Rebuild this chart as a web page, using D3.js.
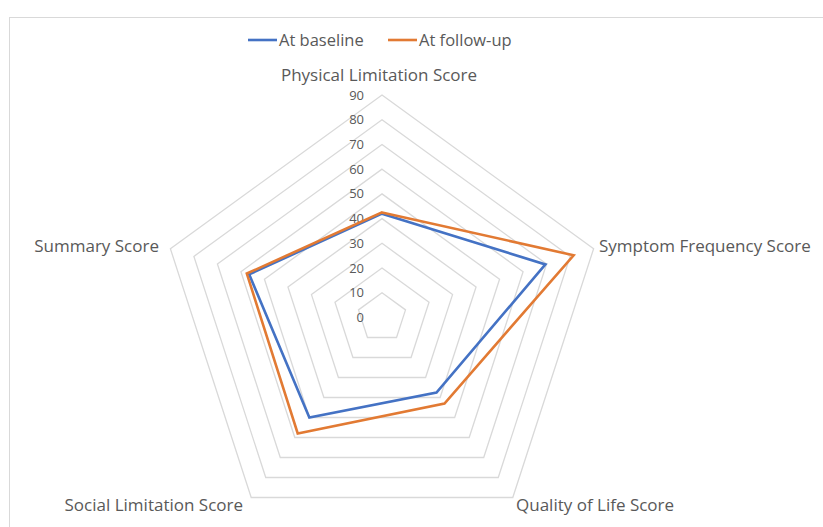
<!DOCTYPE html>
<html>
<head>
<meta charset="utf-8">
<script src="https://cdn.jsdelivr.net/npm/d3@7"></script>
<style>
  body { margin: 0; background: #fff; }
  text { font-family: "Open Sans", Lato, sans-serif; fill: #595959; }
</style>
</head>
<body>
<svg id="chart" width="823" height="527"></svg>
<script>
var axes = ['Physical Limitation Score', 'Symptom Frequency Score', 'Quality of Life Score',
            'Social Limitation Score', 'Summary Score'];
var baseline = [42, 69.5, 37.5, 50, 56.5];
var followUp = [42.5, 81.5, 43, 58, 57.5];
var seriesNames = ['At baseline', 'At follow-up'];
var tickValues = [0, 10, 20, 30, 40, 50, 60, 70, 80, 90];

var colors = ['#4472C4', '#E27A33'];

var svg = d3.select('#chart'),
    cx = 382, cy = 317.5, R = 222.5;

// chart area border
svg.append('rect')
    .attr('x', 9.5).attr('y', 17.5)
    .attr('width', 830).attr('height', 530)
    .attr('fill', 'none').attr('stroke', '#d9d9d9');

var r = d3.scaleLinear().domain([0, 90]).range([0, R]);
var angle = d3.scaleLinear().domain([0, axes.length]).range([0, 2 * Math.PI]);

function pt(i, v) {
    var a = angle(i);
    return [cx + r(v) * Math.sin(a), cy - r(v) * Math.cos(a)];
}

var line = d3.line();

// grid rings
tickValues.forEach(function(t) {
    if (t === 0) return;
    var pts = axes.map(function(d, i) { return pt(i, t); });
    svg.append('path')
        .attr('d', line(pts) + 'Z')
        .attr('fill', 'none')
        .attr('stroke', '#d9d9d9')
        .attr('stroke-width', 1.3);
});

// tick labels
svg.selectAll('.tick')
    .data(tickValues)
    .enter().append('text')
    .attr('x', cx - 18)
    .attr('y', function(d) { return cy - r(d); })
    .attr('dy', '0.35em')
    .attr('text-anchor', 'end')
    .style('font-size', '13px')
    .text(function(d) { return d; });

// axis labels
var labelPos = [
    {x: cx - 3, y: 75, anchor: 'middle'},
    {x: 599, y: 246, anchor: 'start'},
    {x: 516, y: 505, anchor: 'start'},
    {x: 243, y: 505, anchor: 'end'},
    {x: 159, y: 246, anchor: 'end'}
];
svg.selectAll('.axis-label')
    .data(axes)
    .enter().append('text')
    .attr('x', function(d, i) { return labelPos[i].x; })
    .attr('y', function(d, i) { return labelPos[i].y; })
    .attr('dy', '0.35em')
    .attr('text-anchor', function(d, i) { return labelPos[i].anchor; })
    .style('font-size', '17px')
    .text(function(d) { return d; });

// series
[baseline, followUp].forEach(function(vals, s) {
    var pts = vals.map(function(v, i) { return pt(i, v); });
    svg.append('path')
        .attr('d', line(pts) + 'Z')
        .attr('fill', 'none')
        .attr('stroke', colors[s])
        .attr('stroke-width', 2.6)
        .attr('stroke-linejoin', 'miter');
});

// legend
var legendX = [248, 388];
seriesNames.forEach(function(name, s) {
    var g = svg.append('g').attr('transform', 'translate(' + legendX[s] + ',40)');
    g.append('line')
        .attr('x1', 0).attr('x2', 29)
        .attr('y1', 0).attr('y2', 0)
        .attr('stroke', colors[s]).attr('stroke-width', 2.6);
    g.append('text')
        .attr('x', 31).attr('dy', '0.35em')
        .style('font-size', '16.5px')
        .text(name);
});
</script>
</body>
</html>
